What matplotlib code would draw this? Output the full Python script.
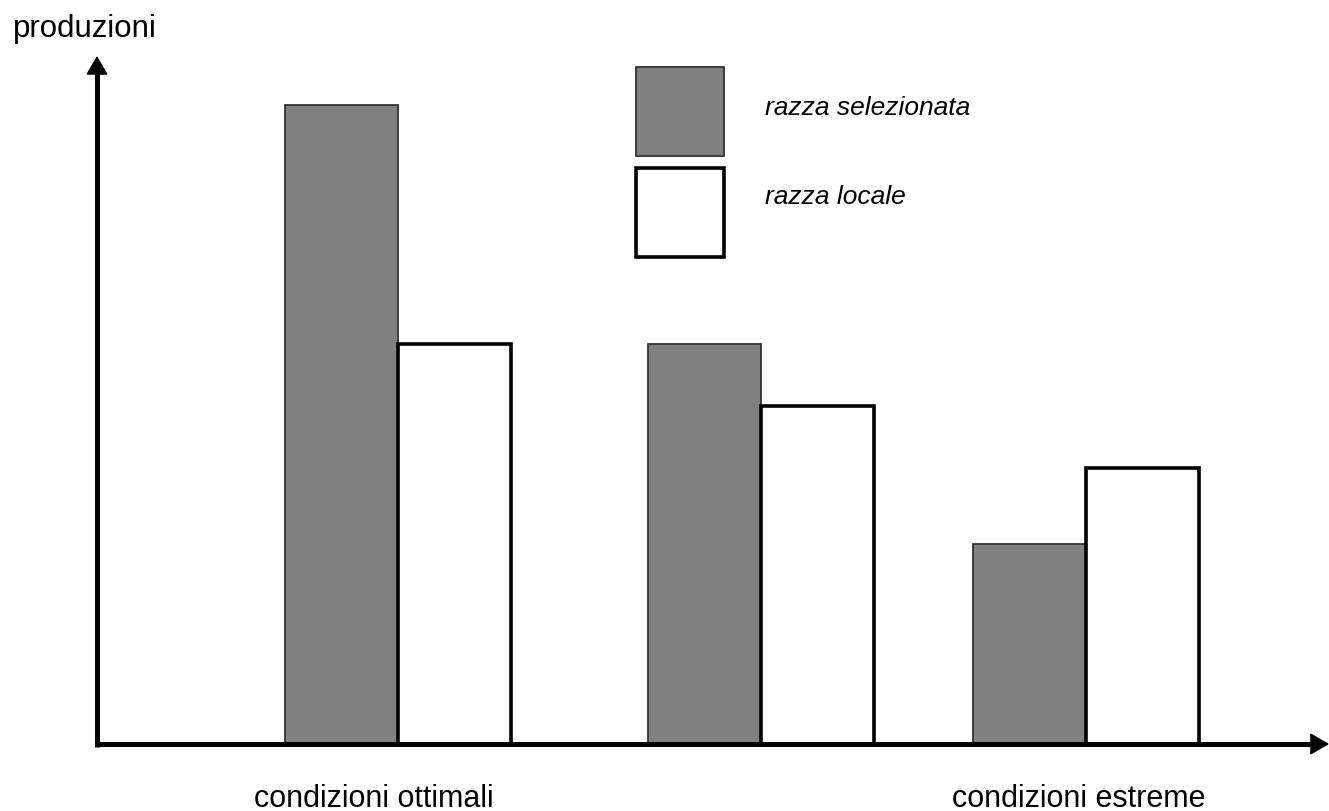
import matplotlib
matplotlib.use("Agg")
import matplotlib.pyplot as plt
from matplotlib.patches import Rectangle

# produzione relativa delle due razze nelle diverse condizioni
condizioni = ["condizioni ottimali", "condizioni intermedie", "condizioni estreme"]
razza_selezionata = [6.39, 4.00, 2.00]
razza_locale = [4.00, 3.38, 2.76]
etichette_asse = ["condizioni ottimali", "", "condizioni estreme"]

plt.rcParams["font.family"] = ["Liberation Sans", "DejaVu Sans"]

W, H = 1329, 812
fig = plt.figure(figsize=(W / 100, H / 100), dpi=100)

# asse: origine a (97, 745) px, 1 unita = 100 px
x0, y0 = 97, 745
ax = fig.add_axes([x0 / W, (H - y0) / H, (W - x0) / W, (y0 - 57) / H])
ax.set_xlim(0, (W - x0) / 100)
ax.set_ylim(0, (y0 - 57) / 100)
ax.axis("off")
xmax, ymax = ax.get_xlim()[1], ax.get_ylim()[1]

centri = [3.01, 6.64, 9.89]
larg = 1.13
ax.bar([c - larg / 2 for c in centri], razza_selezionata, width=larg,
       color="#808080", edgecolor="#333333", linewidth=1.3, zorder=2)
ax.bar([c + larg / 2 for c in centri], razza_locale, width=larg,
       color="white", edgecolor="black", linewidth=2.6, zorder=2)

# assi con freccia: tratto spesso + punta piena
ax.plot([0, 0], [-0.025, ymax - 0.12], color="black", lw=3.6,
        solid_capstyle="butt", clip_on=False, zorder=5)
ax.plot([-0.025, xmax - 0.12], [0, 0], color="black", lw=3.6,
        solid_capstyle="butt", clip_on=False, zorder=5)
punta = dict(arrowstyle="-|>,head_length=0.6,head_width=0.35",
             lw=1, color="black", shrinkA=0, shrinkB=0,
             mutation_scale=20)
ax.annotate("", xy=(0, ymax), xytext=(0, ymax - 0.3),
            arrowprops=punta, annotation_clip=False, zorder=6)
ax.annotate("", xy=(xmax, 0), xytext=(xmax - 0.3, 0),
            arrowprops=punta, annotation_clip=False, zorder=6)

fig.text(13 / W, 1 - 37 / H, "produzioni", fontsize=22.5,
         ha="left", va="baseline")

for xc, lab in zip([374, 1079], [etichette_asse[0], etichette_asse[2]]):
    fig.text(xc / W, 1 - 807 / H, lab, fontsize=22, ha="center",
             va="baseline")

# legenda disegnata a mano
fig.patches.append(Rectangle((636 / W, 1 - 157 / H), 88 / W, 89 / H,
                             transform=fig.transFigure, facecolor="#808080",
                             edgecolor="#333333", linewidth=1.3))
fig.patches.append(Rectangle((636 / W, 1 - 258 / H), 88 / W, 89 / H,
                             transform=fig.transFigure, facecolor="white",
                             edgecolor="black", linewidth=2.6))
fig.text(765 / W, 1 - 115 / H, "razza selezionata", fontsize=19,
         style="italic", ha="left", va="baseline")
fig.text(765 / W, 1 - 204 / H, "razza locale", fontsize=19,
         style="italic", ha="left", va="baseline")

fig.savefig("out.png", dpi=100, facecolor="white")
